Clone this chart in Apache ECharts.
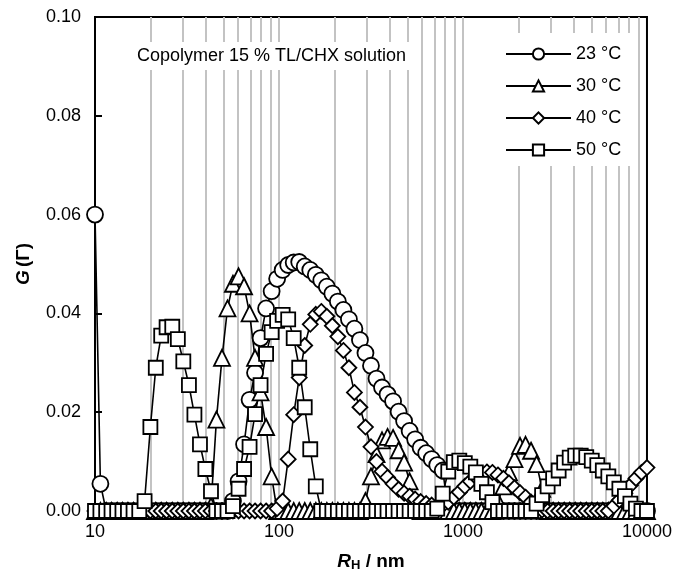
<!DOCTYPE html>
<html>
<head>
<meta charset="utf-8">
<script src="https://cdn.jsdelivr.net/npm/echarts@6/dist/echarts.min.js"></script>
<style>
  html, body { margin: 0; padding: 0; background: #fff; }
  #chart { width: 675px; height: 577px; }
</style>
</head>
<body>
<div id="chart"></div>
<script>
// hydrodynamic radius grid, nm
const radius = [
  10, 10.7, 11.5, 12.3, 13.2, 14.1, 15.1, 16.2, 17.4, 18.6,
  20.0, 21.4, 22.9, 24.5, 26.3, 28.2, 30.2, 32.4, 34.7, 37.2,
  39.8, 42.7, 45.7, 49.0, 52.5, 56.2, 60.3, 64.6, 69.2, 74.1,
  79.4, 85.1, 91.2, 97.7, 104.7, 112.2, 120.2, 128.8, 138.0, 147.9,
  158.5, 169.8, 182.0, 195.0, 208.9, 223.9, 239.9, 257.0, 275.4, 295.1,
  316.2, 338.8, 363.1, 389.0, 416.9, 446.7, 478.6, 512.9, 549.5, 588.8,
  631.0, 676.1, 724.4, 776.2, 831.8, 891.3, 955.0, 1023, 1096, 1175,
  1259, 1349, 1445, 1549, 1660, 1778, 1905, 2042, 2188, 2344,
  2512, 2692, 2884, 3090, 3311, 3548, 3802, 4074, 4365, 4677,
  5012, 5370, 5754, 6166, 6607, 7079, 7586, 8128, 8710, 9333,
  10000
];

const g23 = [
  0.06, 0.0055, 0, 0, 0, 0, 0, 0, 0, 0,
  0, 0, 0, 0, 0, 0, 0, 0, 0, 0,
  0, 0, 0, 0, 0, 0.002, 0.006, 0.0135, 0.0225, 0.028,
  0.035, 0.041, 0.0445, 0.047, 0.0488, 0.0498, 0.0503, 0.0504, 0.0495, 0.0488,
  0.0478, 0.0467, 0.0454, 0.044, 0.0424, 0.0407, 0.0388, 0.0369, 0.0346, 0.032,
  0.0294, 0.0268, 0.025, 0.0236, 0.0222, 0.0201, 0.0182, 0.0162, 0.0145, 0.0128,
  0.0117, 0.0105, 0.0093, 0.0082, 0, 0, 0, 0, 0, 0,
  0, 0, 0, 0, 0, 0, 0, 0, 0, 0,
  0, 0, 0, 0, 0, 0, 0, 0, 0, 0,
  0, 0, 0, 0, 0, 0, 0, 0, 0, 0,
  0
];

const g30 = [
  0, 0, 0, 0, 0, 0, 0, 0, 0, 0,
  0, 0, 0, 0, 0, 0, 0, 0, 0, 0,
  0, 0.001, 0.0185, 0.031, 0.041, 0.046, 0.0475, 0.0455, 0.04, 0.031,
  0.024, 0.017, 0.007, 0, 0, 0, 0, 0, 0, 0,
  0, 0, 0, 0, 0, 0, 0, 0, 0, 0.002,
  0.007, 0.0115, 0.0143, 0.015, 0.0148, 0.0123, 0.0098, 0.006, 0.0015, 0,
  0, 0, 0, 0, 0, 0, 0, 0, 0, 0,
  0, 0, 0, 0.002, 0.005, 0.0078, 0.0105, 0.0132, 0.0134, 0.0122,
  0.0095, 0.0045, 0, 0, 0, 0, 0, 0, 0, 0,
  0, 0, 0, 0, 0, 0, 0, 0, 0, 0,
  0
];

const g40 = [
  0, 0, 0, 0, 0, 0, 0, 0, 0, 0,
  0, 0, 0, 0, 0, 0, 0, 0, 0, 0,
  0, 0, 0, 0, 0, 0, 0, 0, 0, 0,
  0, 0, 0, 0.0005, 0.002, 0.0105, 0.0195, 0.027, 0.0335, 0.0378,
  0.0398, 0.0404, 0.0394, 0.0375, 0.0353, 0.0325, 0.029, 0.024, 0.021, 0.017,
  0.013, 0.01, 0.008, 0.0068, 0.0055, 0.0044, 0.0036, 0.003, 0.0024, 0.0019,
  0.0015, 0.0012, 0.001, 0.0012, 0.0018, 0.0028, 0.0038, 0.005, 0.006, 0.0069,
  0.0076, 0.0079, 0.0078, 0.0073, 0.0066, 0.0057, 0.0047, 0.0037, 0.0028, 0.0018,
  0.0009, 0.0002, 0, 0, 0, 0, 0, 0, 0, 0,
  0, 0, 0, 0, 0.001, 0.0022, 0.0036, 0.0052, 0.0066, 0.0078,
  0.0088
];

const g50 = [
  0, 0, 0, 0, 0, 0, 0, 0, 0, 0.002,
  0.017, 0.029, 0.0355, 0.0372, 0.0373, 0.0348, 0.0303, 0.0255, 0.0195, 0.0135,
  0.0085, 0.004, 0, 0, 0, 0.001, 0.0045, 0.0085, 0.013, 0.0196,
  0.0255, 0.0318, 0.0362, 0.0385, 0.0397, 0.0388, 0.035, 0.029, 0.021, 0.0125,
  0.005, 0, 0, 0, 0, 0, 0, 0, 0, 0,
  0, 0, 0, 0, 0, 0, 0, 0, 0, 0,
  0, 0, 0.0005, 0.0035, 0.008, 0.0099, 0.0102, 0.0097, 0.009, 0.0078,
  0.0055, 0.0038, 0.0018, 0, 0, 0, 0, 0, 0, 0,
  0.0015, 0.0032, 0.005, 0.0066, 0.0082, 0.0098, 0.0108, 0.0112, 0.0112, 0.0109,
  0.0102, 0.0093, 0.0082, 0.007, 0.0058, 0.0045, 0.003, 0.0015, 0.0005, 0,
  0
];

const seriesNames = ['23 °C', '30 °C', '40 °C', '50 °C'];
// gray vertical lines at the log ticks
const gridLines = [20, 30, 40, 50, 60, 70, 80, 90, 100,
  200, 300, 400, 500, 600, 700, 800, 900, 1000,
  2000, 3000, 4000, 5000, 6000, 7000, 8000, 9000];

const font = 'Liberation Sans, Arial, sans-serif';

function pairs(ys) {
  return radius.map((r, i) => [r, ys[i]]);
}

function dls(name, symbol, size, ys) {
  return {
    name: name,
    type: 'line',
    data: pairs(ys),
    symbol: symbol,
    symbolSize: size,
    showAllSymbol: true,
    lineStyle: { color: '#000', width: 1.6 },
    itemStyle: { color: '#fff', borderColor: '#000', borderWidth: 1.8 },
    emphasis: { disabled: true },
    z: 3
  };
}

const chart = echarts.init(document.getElementById('chart'));

chart.setOption({
  animation: false,
  backgroundColor: '#fff',
  grid: {
    left: 95, right: 28, top: 17, bottom: 63,
    show: true, borderColor: '#000', borderWidth: 2
  },
  legend: {
    data: seriesNames,
    orient: 'vertical',
    left: 488, top: 33,
    padding: [12, 9, 7, 17],
    itemWidth: 65, itemHeight: 14, itemGap: 14,
    backgroundColor: '#fff',
    z: 20,
    textStyle: { fontFamily: font, fontSize: 18, color: '#000' }
  },
  graphic: [
    {
      type: 'rect', z: 10,
      shape: { x: 128, y: 42, width: 290, height: 28 },
      style: { fill: '#fff' }
    },
    {
      type: 'text', z: 11,
      x: 137, y: 56,
      style: {
        text: 'Copolymer 15 % TL/CHX solution',
        font: '18px ' + font, fill: '#000',
        verticalAlign: 'middle'
      }
    }
  ],
  xAxis: {
    type: 'log', logBase: 10, min: 10, max: 10000,
    axisLine: { show: true, lineStyle: { color: '#000', width: 2 } },
    axisTick: { show: false },
    splitLine: { show: false },
    axisLabel: { color: '#000', fontFamily: font, fontSize: 18, margin: 12,
      showMinLabel: true, showMaxLabel: true,
      formatter: v => String(Math.round(v)) },
    name: '{i|R}{s|H}{b| / nm}',
    nameLocation: 'middle', nameGap: 40,
    nameTextStyle: {
      rich: {
        i: { fontFamily: font, fontSize: 19, fontWeight: 'bold', fontStyle: 'italic', color: '#000' },
        s: { fontFamily: font, fontSize: 13, fontWeight: 'bold', color: '#000', verticalAlign: 'bottom', padding: [8, 0, 0, 0] },
        b: { fontFamily: font, fontSize: 19, fontWeight: 'bold', color: '#000' }
      }
    }
  },
  yAxis: {
    type: 'value', min: 0, max: 0.1, interval: 0.02,
    axisLine: { show: true, lineStyle: { color: '#000', width: 2 } },
    axisTick: { show: true, inside: true, length: 7, lineStyle: { color: '#000', width: 2 } },
    splitLine: { show: false },
    axisLabel: { color: '#000', fontFamily: font, fontSize: 18, margin: 14,
      formatter: v => v.toFixed(2) },
    name: '{i|G} {b|(Γ)}',
    nameLocation: 'middle', nameGap: 62, nameRotate: 90,
    nameTextStyle: {
      rich: {
        i: { fontFamily: font, fontSize: 19, fontWeight: 'bold', fontStyle: 'italic', color: '#000' },
        b: { fontFamily: font, fontSize: 19, fontWeight: 'bold', color: '#000' }
      }
    }
  },
  series: [
    {
      name: 'grid',
      type: 'line',
      data: [],
      z: 1,
      silent: true,
      markLine: {
        silent: true,
        z: 0,
        symbol: ['none', 'none'],
        label: { show: false },
        lineStyle: { color: '#c3c3c3', width: 2, type: 'solid' },
        data: gridLines.map(v => ({ xAxis: v }))
      }
    },
    dls(seriesNames[0], 'circle', 16, g23),
    dls(seriesNames[1], 'triangle', 16, g30),
    dls(seriesNames[2], 'diamond', 15, g40),
    dls(seriesNames[3], 'rect', 14, g50)
  ]
});
</script>
</body>
</html>
